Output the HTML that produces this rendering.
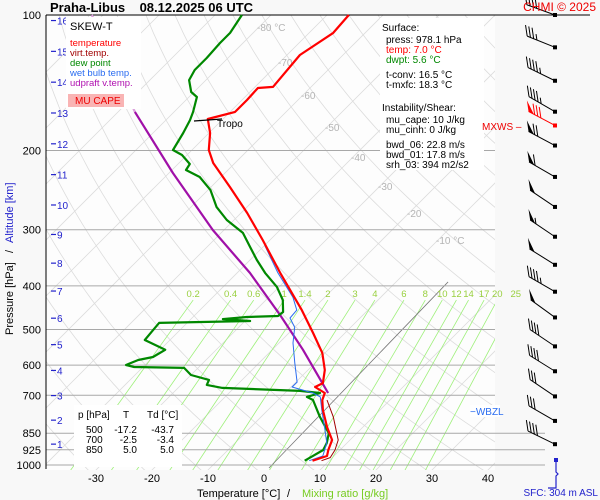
<!DOCTYPE html>
<html><head><meta charset="utf-8"><style>
html,body{margin:0;padding:0;background:#f8f8f8}
svg{display:block;font-family:"Liberation Sans",sans-serif}
</style></head><body>
<svg id="c" width="600" height="500" viewBox="0 0 600 500" xmlns="http://www.w3.org/2000/svg">
<defs><clipPath id="pc"><rect x="46" y="15" width="449" height="455"/></clipPath></defs>
<rect x="0" y="0" width="600" height="500" fill="#f8f8f8"/>
<rect x="46" y="15" width="449" height="455" fill="#fdfdfd"/>
<g id="grid"></g>
<g id="series"></g>
<g id="barbs"></g>
<text x="50" y="12" font-size="13" font-weight="bold" fill="#000" xml:space="preserve">Praha-Libus    08.12.2025 06 UTC</text>
<text x="596" y="11" text-anchor="end" font-size="12" fill="#e00">CHMI © 2025</text>
<g>
<rect x="66" y="17" width="75" height="92" fill="#fff"/>
<text x="70" y="30" font-size="11" fill="#000">SKEW-T</text>
<text x="70" y="46" font-size="9.5" fill="#f00">temperature</text>
<text x="70" y="56" font-size="9.5" fill="#a00000">virt.temp.</text>
<text x="70" y="66" font-size="9.5" fill="#080">dew point</text>
<text x="70" y="76" font-size="9.5" fill="#2a6cf0">wet bulb temp.</text>
<text x="70" y="86" font-size="9.5" fill="#b010b0">udpraft v.temp.</text>
<rect x="68" y="94" width="56" height="13" fill="#f9b4b4"/>
<text x="75" y="104" font-size="10" fill="#e00">MU CAPE</text>
</g>
<g font-size="10">
<rect x="380" y="18" width="104" height="152" fill="#fff"/>
<text x="382" y="31" fill="#000">Surface:</text>
<text x="386" y="43" fill="#000">press: 978.1 hPa</text>
<text x="386" y="53" fill="#f00">temp: 7.0 °C</text>
<text x="386" y="63" fill="#080">dwpt: 5.6 °C</text>
<text x="386" y="78" fill="#000">t-conv: 16.5 °C</text>
<text x="386" y="88" fill="#000">t-mxfc: 18.3 °C</text>
<text x="382" y="111" fill="#000">Instability/Shear:</text>
<text x="386" y="123" fill="#000">mu_cape: 10 J/kg</text>
<text x="386" y="133" fill="#000">mu_cinh: 0 J/kg</text>
<text x="386" y="148" fill="#000">bwd_06: 22.8 m/s</text>
<text x="386" y="158" fill="#000">bwd_01: 17.8 m/s</text>
<text x="386" y="168" fill="#000">srh_03: 394 m2/s2</text>
</g>
<g font-size="10" fill="#000">
<rect x="74" y="405" width="108" height="62" fill="#fff"/>
<text x="78" y="418">p [hPa]</text><text x="123" y="418">T</text><text x="147" y="418">Td [°C]</text>
<text x="86" y="433">500</text><text x="137" y="433" text-anchor="end">-17.2</text><text x="174" y="433" text-anchor="end">-43.7</text>
<text x="86" y="443">700</text><text x="137" y="443" text-anchor="end">-2.5</text><text x="174" y="443" text-anchor="end">-3.4</text>
<text x="86" y="453">850</text><text x="137" y="453" text-anchor="end">5.0</text><text x="174" y="453" text-anchor="end">5.0</text>
</g>
<text x="482" y="130" font-size="10" fill="#e00">MXWS –</text>
<rect x="470" y="405" width="30" height="12" fill="#fff"/>
<text x="470" y="415" font-size="10" fill="#2a6cf0">−WBZL</text>
<text x="217" y="127" font-size="10" fill="#000">Tropo</text>
<g transform="translate(13,250) rotate(-90)" font-size="11">
<text x="-85" y="0" fill="#000">Pressure [hPa]</text><text x="-3" y="0" fill="#000">/</text><text x="7" y="0" fill="#22c">Altitude [km]</text>
</g>
<g font-size="11">
<text x="197" y="497" fill="#000">Temperature [°C]</text><text x="287" y="497" fill="#000">/</text><text x="302" y="497" fill="#7c2">Mixing ratio [g/kg]</text>
</g>
<text x="598" y="496" text-anchor="end" font-size="10" fill="#22c">SFC: 304 m ASL</text>
</svg>
<script>
const tempP=[100,109.6,122.7,144.5,145.3,154.5,164.2,170.3,182.9,199.5,213.2,241.2,275.4,316.2,374.3,452.6,509,563.6,615,657.6,671,691.8,717,754.7,823.6,880,926,955,978];
const tempT=[-66.1,-65.7,-67.7,-66.8,-69.3,-69.1,-69.1,-72.7,-69.8,-67,-63.9,-56.6,-48.9,-41.3,-32.3,-21.8,-15.7,-10.5,-7,-5,-5.7,-2.9,-2.1,-0.2,3.6,6.8,7.9,8.75,7.0];
const dewP=[100,109.6,115.4,124.6,132.5,139.5,148.3,152.1,164.2,171.2,182.9,199.5,204.7,214.3,221,229.1,244.7,267.3,285.4,305,327.8,350.2,374.3,402,429.9,457.1,466.6,469,473.9,478.6,483.4,501,527.5,554.7,575.4,584.4,599.5,605.5,608.6,631,647.1,663.8,674.1,684.5,691.8,705.8,717,782,850,893.5,926,978];
const dewT=[-85.2,-84.1,-84.1,-83.8,-83.8,-83,-80.5,-78.6,-76.6,-75.7,-74.6,-73.4,-70.9,-67.9,-67.5,-63.8,-59.6,-55.4,-51.3,-46.1,-42.3,-38.8,-35,-30.4,-27,-24.8,-25,-30.4,-34.3,-29.1,-45,-44.8,-44.5,-39.1,-40,-42.1,-43.4,-41.6,-32.5,-30,-25.9,-25.4,-22.1,-7.7,-3.75,-5.4,-3.75,0.5,5.0,6.4,7.0,5.6];
const wbP=[324.9,374.3,423.8,452.6,471.3,494.2,535.7,593.4,654.2,671,691.8,705.8,754.7,836,893.5,955,978];
const wbT=[-40,-32.7,-25.7,-22.7,-22.5,-20,-17.5,-13.6,-9.8,-9.8,-5,-3,-0.4,3.75,6.4,8,6.4];
const vtP=[717,782,880,926,962.8,978];
const vtT=[-1.25,2.9,7.9,9.1,9.6,8.6];
const parcelP=[100,164.2,224.5,300.4,374.3,464.2,554.7,691.8];
const parcelT=[-112,-87,-69.3,-52,-37.7,-24.8,-14.5,-2.3];
const pressureTicks=[100,200,300,400,500,600,700,850,925,1000];
const tempTicks=[-30,-20,-10,0,10,20,30,40];
const isoLabels=[-80,-70,-60,-50,-40,-30,-20,-10];
const mixRatios=[0.2,0.4,0.6,1,1.4,2,3,4,6,8,10,12,14,17,20,25];
const altKm=[1,2,3,4,5,6,7,8,9,10,11,12,13,14,15,16];
const windP=[100,118,140,164,195,229,267,311,359,412,470,545,619,704,798,899];
const windDir=[290,292,296,300,298,300,304,304,302,300,306,304,302,304,300,296];
const windSpd=[40,35,45,45,70,60,50,55,50,45,50,40,40,30,30,40];
const mxwsP=[176], mxwsDir=[298], mxwsSpd=[80];

const NS='http://www.w3.org/2000/svg';
function yP(p){return 15+450*Math.log10(p/100);}
function xT(T,p){return 264+5.6*T+(470-yP(p));}
function mk(tag,attrs,parent){const e=document.createElementNS(NS,tag);for(const k in attrs)e.setAttribute(k,attrs[k]);parent.appendChild(e);return e;}
const grid=document.getElementById('grid'),ser=document.getElementById('series'),bg=document.getElementById('barbs');
const gc=mk('g',{'clip-path':'url(#pc)'},grid);
for(let T=-170;T<=50;T+=10){
  const l=mk('line',{x1:xT(T,1070),y1:yP(1070),x2:xT(T,100),y2:yP(100),stroke:'#dcdcdc','stroke-width':0.8},T===0?grid:gc);
  
  
  if(T===0){l.setAttribute('x1',xT(0,1000));l.setAttribute('y1',yP(1000)+3);l.setAttribute('x2',xT(0,400));l.setAttribute('y2',yP(400)-4);l.setAttribute('stroke','#777');}
}
for(let th=240;th<=480;th+=10){
  let d='';
  for(let p=1050;p>=100;p-=10){const T=th*Math.pow(p/1000,0.286)-273.15;d+=(d?'L':'M')+xT(T,p).toFixed(1)+','+yP(p).toFixed(1);}
  const a=mk('path',{d:d,fill:'none',stroke:'#dcdcdc','stroke-width':0.8},gc);
  
  
}
function tdFromW(w,p){const e=w*p/(622+w);const l=Math.log(e/6.112);return 243.5*l/(17.67-l);}
mixRatios.forEach(w=>{
  const ptop=430;
  const m=mk('line',{x1:xT(tdFromW(w,1070),1070),y1:yP(1070),x2:xT(tdFromW(w,ptop),ptop),y2:yP(ptop),stroke:'#9ef07a','stroke-width':0.8},gc);
  
  
  const t=mk('text',{x:xT(tdFromW(w,ptop),ptop),y:yP(ptop)-3,'text-anchor':'middle','font-size':9.5,fill:'#9ad040'},grid);
  t.textContent=String(w);
  
  
});
pressureTicks.forEach(p=>{
  const y=yP(p);
  const x2=p===100?590:(p>=850?545:495);
  const l=mk('line',{x1:46,y1:y,x2:x2,y2:y,stroke:p===100?'#000':'#a8a8a8','stroke-width':1},grid);
  
  
  const t=mk('text',{x:41,y:y+4,'text-anchor':'end','font-size':11,fill:'#000'},grid);
  t.textContent=String(p);
  
  
});
const ax=mk('line',{x1:46,y1:15,x2:46,y2:469,stroke:'#000','stroke-width':1},grid);


isoLabels.forEach((T,i)=>{
  const y=[27,62,95,127,157,186,213,240][i];
  const p=100*Math.pow(10,(y-15)/450);
  const t=mk('text',{x:xT(T,p)-2,y:y+4,'font-size':10,fill:'#b4b4b4'},grid);
  t.textContent=(T===-80||T===-10)?T+' °C':String(T);
  
  
});
tempTicks.forEach(T=>{
  const t=mk('text',{x:xT(T,1000)-(470-yP(1000)),y:482,'text-anchor':'middle','font-size':11,fill:'#000'},grid);
  t.textContent=String(T);
  
  
});
function pAlt(h){h*=1000;return h<=11000?1013.25*Math.pow(1-2.25577e-5*h,5.2559):226.32*Math.exp(-(h-11000)/6341.6);}
altKm.forEach(k=>{
  const y=yP(pAlt(k));
  const l=mk('line',{x1:51,y1:y,x2:56,y2:y,stroke:'#22c','stroke-width':1.2},grid);
  
  
  const t=mk('text',{x:57,y:y+4,'font-size':10,fill:'#22c'},grid);
  t.textContent=String(k);
  
  
});
function path(P,T,color,w,name){
  let d='';P.forEach((p,i)=>{d+=(i?'L':'M')+xT(T[i],p).toFixed(1)+','+yP(p).toFixed(1);});
  const e=mk('path',{d:d,fill:'none',stroke:color,'stroke-width':w,'stroke-linejoin':'round'},ser);
  
  
  return e;
}
path(parcelP.slice(0,2),parcelT.slice(0,2),'#dca0dc',2.2,'updraft-upper-line');
path(parcelP.slice(1),parcelT.slice(1),'#a010a8',2.2,'updraft-vtemp-line');
path(vtP,vtT,'#a00000',1,'virtual-temp-line');
path(dewP,dewT,'#008800',2.2,'dewpoint-line');
path(wbP,wbT,'#2a6cf0',1,'wet-bulb-line');
path(tempP,tempT,'#ff0000',2.2,'temperature-line');
const tr=mk('line',{x1:194,y1:121,x2:222,y2:119,stroke:'#000','stroke-width':1.2},ser);


function barb(p,dir,spd,color){
  const y=yP(p),x=555,L=30,r=dir*Math.PI/180;
  const ux=Math.sin(r),uy=-Math.cos(r);
  const g=mk('g',{},bg);
  
  
  mk('line',{x1:x,y1:y,x2:x+ux*L,y2:y+uy*L,stroke:color,'stroke-width':1},g);
  mk('rect',{x:x-2,y:y-2,width:4,height:4,fill:color},g);
  let s=spd,pos=L;const bx=-0.15,by=-1;
  while(s>=50){
    const ax1=x+ux*pos,ay1=y+uy*pos,ax2=x+ux*(pos-6),ay2=y+uy*(pos-6);
    mk('polygon',{points:`${ax1},${ay1} ${ax1+bx*11},${ay1+by*11} ${ax2},${ay2}`,fill:color},g);
    s-=50;pos-=7;
  }
  while(s>=10){const ax1=x+ux*pos,ay1=y+uy*pos;mk('line',{x1:ax1,y1:ay1,x2:ax1+bx*11,y2:ay1+by*11,stroke:color,'stroke-width':1},g);s-=10;pos-=3.5;}
  if(s>=5){const ax1=x+ux*pos,ay1=y+uy*pos;mk('line',{x1:ax1,y1:ay1,x2:ax1+bx*6,y2:ay1+by*6,stroke:color,'stroke-width':1},g);}
}
windP.forEach((p,i)=>barb(p,windDir[i],windSpd[i],'#000'));
mxwsP.forEach((p,i)=>barb(p,mxwsDir[i],mxwsSpd[i],'#f00'));
const sfc=mk('path',{d:'M556,460 L556,472 L558,474 L556,476 L556,488 L548,488',fill:'none',stroke:'#22c','stroke-width':1.2},bg);


const sd=mk('rect',{x:554,y:458,width:4,height:4,fill:'#22c'},bg);


</script>
</body></html>
